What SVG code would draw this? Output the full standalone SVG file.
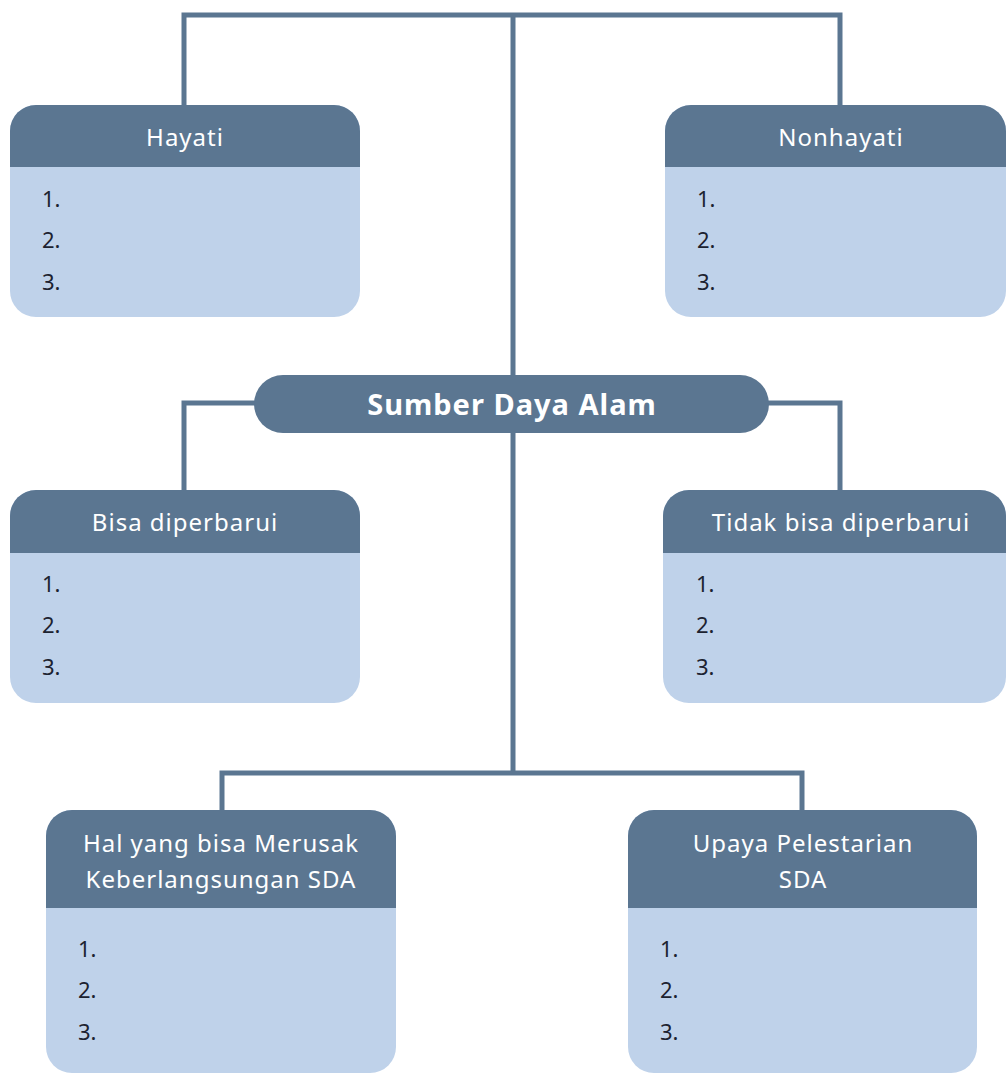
<svg xmlns="http://www.w3.org/2000/svg" width="1007" height="1075" viewBox="0 0 1007 1075">
<style>
.body{fill:#bfd2ea}
.head{fill:#5b7691}
.conn{fill:none;stroke:#5b7691;stroke-width:5}
.ht{font-family:"Noto Sans",sans-serif;font-size:24px;letter-spacing:1px;fill:#ffffff;text-anchor:middle}
.li{font-family:"Noto Sans",sans-serif;font-size:22px;fill:#1c2230}
.main{font-family:"Noto Sans",sans-serif;font-size:29px;letter-spacing:1px;font-weight:bold;fill:#ffffff;text-anchor:middle}
</style>
<rect width="1007" height="1075" fill="#ffffff"/>
<g id="connectors">
<path class="conn" d="M184 105 V15 H840 V105"/>
<path class="conn" d="M513 15 V773"/>
<path class="conn" d="M184 490 V403 H840 V490"/>
<path class="conn" d="M222 810 V773 H802 V810"/>
</g>
<g id="hayati">
<rect class="body" x="10" y="105" width="350" height="212" rx="26"/>
<path class="head" d="M10 167 V131 A26 26 0 0 1 36 105 H334 A26 26 0 0 1 360 131 V167 Z"/>
<text class="ht" x="185" y="146">Hayati</text>
<text class="li" x="42" y="207">1.</text>
<text class="li" x="42" y="248">2.</text>
<text class="li" x="42" y="290">3.</text>
</g>
<g id="nonhayati">
<rect class="body" x="665" y="105" width="341" height="212" rx="26"/>
<path class="head" d="M665 167 V131 A26 26 0 0 1 691 105 H980 A26 26 0 0 1 1006 131 V167 Z"/>
<text class="ht" x="841" y="146">Nonhayati</text>
<text class="li" x="697" y="207">1.</text>
<text class="li" x="697" y="248">2.</text>
<text class="li" x="697" y="290">3.</text>
</g>
<g id="sda">
<rect class="head" x="254" y="375" width="515" height="58" rx="29"/>
<text class="main" x="512" y="415">Sumber Daya Alam</text>
</g>
<g id="bisa">
<rect class="body" x="10" y="490" width="350" height="213" rx="26"/>
<path class="head" d="M10 553 V516 A26 26 0 0 1 36 490 H334 A26 26 0 0 1 360 516 V553 Z"/>
<text class="ht" x="185" y="531">Bisa diperbarui</text>
<text class="li" x="42" y="592">1.</text>
<text class="li" x="42" y="633">2.</text>
<text class="li" x="42" y="675">3.</text>
</g>
<g id="tidak">
<rect class="body" x="663" y="490" width="343" height="213" rx="26"/>
<path class="head" d="M663 553 V516 A26 26 0 0 1 689 490 H980 A26 26 0 0 1 1006 516 V553 Z"/>
<text class="ht" x="841" y="531">Tidak bisa diperbarui</text>
<text class="li" x="696" y="592">1.</text>
<text class="li" x="696" y="633">2.</text>
<text class="li" x="696" y="675">3.</text>
</g>
<g id="merusak">
<rect class="body" x="46" y="810" width="350" height="263" rx="26"/>
<path class="head" d="M46 908 V836 A26 26 0 0 1 72 810 H370 A26 26 0 0 1 396 836 V908 Z"/>
<text class="ht" x="221" y="852">Hal yang bisa Merusak</text>
<text class="ht" x="221" y="888">Keberlangsungan SDA</text>
<text class="li" x="78" y="957">1.</text>
<text class="li" x="78" y="998">2.</text>
<text class="li" x="78" y="1040">3.</text>
</g>
<g id="upaya">
<rect class="body" x="628" y="810" width="349" height="263" rx="26"/>
<path class="head" d="M628 908 V836 A26 26 0 0 1 654 810 H951 A26 26 0 0 1 977 836 V908 Z"/>
<text class="ht" x="803" y="852">Upaya Pelestarian</text>
<text class="ht" x="803" y="888">SDA</text>
<text class="li" x="660" y="957">1.</text>
<text class="li" x="660" y="998">2.</text>
<text class="li" x="660" y="1040">3.</text>
</g>
</svg>
